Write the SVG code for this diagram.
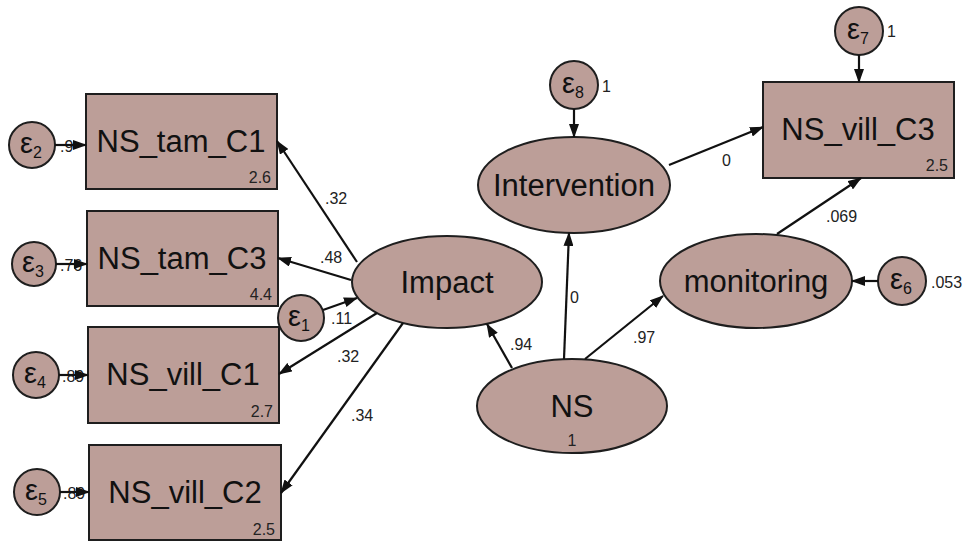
<svg xmlns="http://www.w3.org/2000/svg" width="970" height="541" viewBox="0 0 970 541">
<defs>
<style>
.n{fill:#bc9e98;stroke:#1e1e1e;stroke-width:2}
.t{font-family:"Liberation Sans",Arial,sans-serif;font-size:31px;fill:#111;text-anchor:middle}
.v{font-family:"Liberation Sans",Arial,sans-serif;font-size:16px;fill:#222;text-anchor:end}
.l{font-family:"Liberation Sans",Arial,sans-serif;font-size:16px;fill:#222}
.e{font-family:"Liberation Sans",Arial,sans-serif;font-size:29px;fill:#111}
.s{font-size:16px}
.c{stroke:#111;stroke-width:2.2;fill:none;marker-end:url(#ah)}
</style>
<marker id="ah" markerUnits="userSpaceOnUse" markerWidth="14" markerHeight="10" refX="13" refY="5" orient="auto">
<path d="M0,0 L14,5 L0,10 z" fill="#111"/>
</marker>
</defs>
<rect width="970" height="541" fill="#fff"/>

<g id="NS_tam_C1"><rect class="n" x="86" y="94" width="191" height="95"/><text class="t" x="181" y="152">NS_tam_C1</text><text class="v" x="271" y="183">2.6</text></g>
<g id="NS_tam_C3"><rect class="n" x="87" y="211" width="191" height="95"/><text class="t" x="182" y="269">NS_tam_C3</text><text class="v" x="272" y="300">4.4</text></g>
<g id="NS_vill_C1"><rect class="n" x="88" y="327" width="191" height="96"/><text class="t" x="183" y="385">NS_vill_C1</text><text class="v" x="273" y="417">2.7</text></g>
<g id="NS_vill_C2"><rect class="n" x="89" y="445" width="192" height="95"/><text class="t" x="185" y="503">NS_vill_C2</text><text class="v" x="275" y="535">2.5</text></g>
<g id="NS_vill_C3"><rect class="n" x="763" y="82" width="191" height="96"/><text class="t" x="858" y="140">NS_vill_C3</text><text class="v" x="948" y="171">2.5</text></g>

<g id="Impact"><ellipse class="n" cx="447" cy="282" rx="95" ry="46"/><text class="t" x="447" y="293">Impact</text></g>
<g id="Intervention"><ellipse class="n" cx="574" cy="185" rx="96" ry="48"/><text class="t" x="574" y="196">Intervention</text></g>
<g id="monitoring"><ellipse class="n" cx="756" cy="281" rx="96" ry="47"/><text class="t" x="756" y="292">monitoring</text></g>
<g id="NS"><ellipse class="n" cx="572" cy="406" rx="95" ry="47"/><text class="t" x="572" y="417">NS</text><text class="l" x="572" y="446" text-anchor="middle">1</text></g>

<g id="e1"><circle class="n" cx="301" cy="318" r="23"/><text class="e" x="288" y="326">ε<tspan class="s" dy="5">1</tspan></text></g>
<g id="e2"><circle class="n" cx="32" cy="145" r="23"/><text class="e" x="20" y="153">ε<tspan class="s" dy="5">2</tspan></text><text class="l" x="60" y="152">.9</text></g>
<g id="e3"><circle class="n" cx="34" cy="264" r="22"/><text class="e" x="22" y="272">ε<tspan class="s" dy="5">3</tspan></text><text class="l" x="60" y="271">.76</text></g>
<g id="e4"><circle class="n" cx="36" cy="375" r="23"/><text class="e" x="24" y="383">ε<tspan class="s" dy="5">4</tspan></text><text class="l" x="62" y="382">.89</text></g>
<g id="e5"><circle class="n" cx="37" cy="492" r="23"/><text class="e" x="25" y="500">ε<tspan class="s" dy="5">5</tspan></text><text class="l" x="63" y="499">.89</text></g>
<g id="e6"><circle class="n" cx="902" cy="281" r="24"/><text class="e" x="890" y="289">ε<tspan class="s" dy="5">6</tspan></text><text class="l" x="931" y="288">.053</text></g>
<g id="e7"><circle class="n" cx="859" cy="31" r="24"/><text class="e" x="847" y="39">ε<tspan class="s" dy="5">7</tspan></text><text class="l" x="887" y="37">1</text></g>
<g id="e8"><circle class="n" cx="574" cy="85" r="24"/><text class="e" x="562" y="93">ε<tspan class="s" dy="5">8</tspan></text><text class="l" x="602" y="92">1</text></g>

<g id="connectors">
<line class="c" x1="55" y1="145" x2="86" y2="145"/>
<line class="c" x1="56" y1="264" x2="87" y2="264"/>
<line class="c" x1="59" y1="375" x2="88" y2="375"/>
<line class="c" x1="60" y1="492" x2="89" y2="492"/>
<line class="c" x1="357" y1="262" x2="277" y2="141"/>
<line class="c" x1="351" y1="280" x2="278" y2="258"/>
<line class="c" x1="323" y1="310" x2="357" y2="298"/>
<line class="c" x1="377" y1="313" x2="279" y2="374"/>
<line class="c" x1="403" y1="323" x2="281" y2="493"/>
<line class="c" x1="512" y1="368" x2="487" y2="324"/>
<line class="c" x1="564" y1="359" x2="569" y2="233"/>
<line class="c" x1="585" y1="359" x2="663" y2="296"/>
<line class="c" x1="669" y1="165" x2="763" y2="127"/>
<line class="c" x1="777" y1="234" x2="861" y2="178"/>
<line class="c" x1="878" y1="281" x2="852" y2="281"/>
<line class="c" x1="859" y1="55" x2="859" y2="82"/>
<line class="c" x1="574" y1="109" x2="574" y2="137"/>
</g>

<g id="labels">
<text class="l" x="325" y="204">.32</text>
<text class="l" x="320" y="263">.48</text>
<text class="l" x="331" y="324">.11</text>
<text class="l" x="337" y="362">.32</text>
<text class="l" x="351" y="421">.34</text>
<text class="l" x="510" y="350">.94</text>
<text class="l" x="570" y="303">0</text>
<text class="l" x="633" y="343">.97</text>
<text class="l" x="722" y="166">0</text>
<text class="l" x="826" y="222">.069</text>
</g>
</svg>
